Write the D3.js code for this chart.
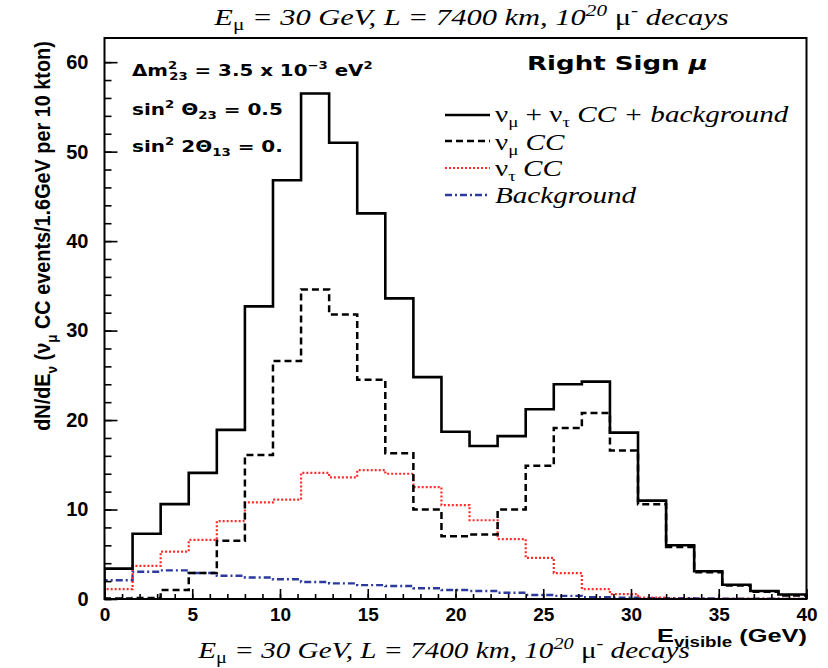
<!DOCTYPE html>
<html>
<head>
<meta charset="utf-8">
<script src="https://cdn.jsdelivr.net/npm/d3@7"></script>
<style>
  html, body { margin: 0; padding: 0; background: #fff; }
  svg { display: block; }
</style>
</head>
<body>
<svg id="chart" width="828" height="668"></svg>
<script>
// Visible-energy histograms, 1.6 GeV bins from 0 to 40 GeV
const binWidth = 1.6;
const xDomain = [0, 40];
const yDomain = [0, 62.7];

const totalEvents = [3.4, 7.3, 10.6, 14.1, 18.9, 32.7, 46.8, 56.5, 51.0, 43.1, 33.6, 24.8, 18.7,
                     17.1, 18.2, 21.2, 24.0, 24.3, 18.6, 11.0, 6.0, 3.1, 1.6, 0.9, 0.5];
const numuCC = [0.05, 0.1, 1.0, 2.9, 6.5, 16.1, 26.6, 34.6, 31.8, 24.5, 16.3, 10.0, 7.0,
                7.2, 10.0, 14.9, 19.1, 20.8, 16.6, 10.6, 5.8, 3.0, 1.5, 0.8, 0.4];
const nutauCC = [1.1, 3.7, 5.3, 6.6, 8.7, 10.8, 11.1, 14.1, 13.6, 14.4, 14.0, 12.5, 10.5,
                 8.8, 6.7, 4.6, 2.9, 1.1, 0.55, 0.15, 0.05, 0.03, 0.02, 0.01, 0.01];
const background = [2.1, 3.05, 3.2, 2.9, 2.6, 2.4, 2.2, 1.9, 1.75, 1.55, 1.45, 1.2, 1.0,
                    0.9, 0.7, 0.45, 0.35, 0.2, 0.15, 0.1, 0.08, 0.05, 0.03, 0.02, 0.01];

const xMajorTicks = [0, 5, 10, 15, 20, 25, 30, 35, 40];
const yMajorTicks = [0, 10, 20, 30, 40, 50, 60];

const seriesStyles = [
  { values: background, color: "#2b3a9c", width: 2.4, dash: "7,3,2,3" },
  { values: nutauCC,    color: "#ff2a2a", width: 2.2, dash: "2,2" },
  { values: numuCC,     color: "#000",    width: 2.5, dash: "7,4" },
  { values: totalEvents, color: "#000",   width: 2.6, dash: null }
];

const svg = d3.select("#chart");
const m = { left: 104.5, right: 806.5, top: 38, bottom: 599 };

const x = d3.scaleLinear().domain(xDomain).range([m.left, m.right]);
const y = d3.scaleLinear().domain(yDomain).range([m.bottom, m.top]);

const serif = "'Liberation Serif', 'Times New Roman', serif";
const sans = "'Liberation Sans', Arial, sans-serif";
const roundSans = "'DejaVu Sans', Verdana, sans-serif";

svg.append("defs").append("clipPath").attr("id", "plotClip")
  .append("rect")
  .attr("x", m.left).attr("y", m.top)
  .attr("width", m.right - m.left).attr("height", m.bottom - m.top);

// Step outline of a histogram, closed down to zero at both ends
function stepPoints(values) {
  const pts = [[xDomain[0], 0]];
  values.forEach((v, i) => {
    const lo = xDomain[0] + i * binWidth;
    pts.push([lo, v], [lo + binWidth, v]);
  });
  pts.push([xDomain[0] + values.length * binWidth, 0]);
  return pts;
}
const line = d3.line().x(d => x(d[0])).y(d => y(d[1]));

const hist = svg.append("g").attr("clip-path", "url(#plotClip)");
seriesStyles.forEach(s => {
  hist.append("path")
    .attr("d", line(stepPoints(s.values)))
    .attr("fill", "none")
    .attr("stroke", s.color)
    .attr("stroke-width", s.width)
    .attr("stroke-dasharray", s.dash)
    .attr("stroke-linejoin", "miter");
});

// Axes: ticks point into the frame
const xMinor = d3.range(xDomain[0], xDomain[1] + 0.001, 1);
const yMinor = d3.range(0, 62, 2);

svg.append("g").attr("transform", `translate(0,${m.bottom})`)
  .call(d3.axisBottom(x).tickValues(xMinor).tickSize(-5).tickFormat(""))
  .call(g => g.select(".domain").remove())
  .call(g => g.selectAll("line").attr("stroke-width", 1.6));
svg.append("g").attr("transform", `translate(0,${m.bottom})`)
  .call(d3.axisBottom(x).tickValues(xMajorTicks).tickSize(-10).tickPadding(18).tickFormat(d3.format("d")))
  .call(g => g.select(".domain").remove())
  .call(g => g.selectAll("line").attr("stroke-width", 1.6))
  .call(g => g.selectAll("text")
    .attr("font-family", sans)
    .attr("font-weight", "bold").attr("font-size", 19).attr("fill", "#000")
    .attr("dy", "0.2em"));

svg.append("g").attr("transform", `translate(${m.left},0)`)
  .call(d3.axisLeft(y).tickValues(yMinor).tickSize(-7).tickFormat(""))
  .call(g => g.select(".domain").remove())
  .call(g => g.selectAll("line").attr("stroke-width", 1.6));
svg.append("g").attr("transform", `translate(${m.left},0)`)
  .call(d3.axisLeft(y).tickValues(yMajorTicks).tickSize(-13).tickPadding(16).tickFormat(d3.format("d")))
  .call(g => g.select(".domain").remove())
  .call(g => g.selectAll("line").attr("stroke-width", 1.6))
  .call(g => g.selectAll("text")
    .attr("font-family", sans)
    .attr("font-weight", "bold").attr("font-size", 20).attr("fill", "#000"));

// Frame
svg.append("rect")
  .attr("x", m.left).attr("y", m.top)
  .attr("width", m.right - m.left).attr("height", m.bottom - m.top)
  .attr("fill", "none").attr("stroke", "#000").attr("stroke-width", 2);

// Text helper: a text in its own group, stretched horizontally to span [x0, x1]
function wideText(x0, x1, yPos, attrs) {
  const g = svg.append("g");
  const t = g.append("text").attr("x", 0).attr("y", yPos).attr("fill", "#000");
  Object.entries(attrs).forEach(([k, v]) => t.attr(k, v));
  return { g, t, fit() {
    const b = t.node().getBBox();
    const s = (x1 - x0) / b.width;
    g.attr("transform", `translate(${x0 - b.x * s},0) scale(${s},1)`);
  } };
}

// Run description above and below the frame
function runTitle(x0, x1, yPos) {
  const w = wideText(x0, x1, yPos, { "font-family": serif, "font-size": 23 });
  const t = w.t;
  t.append("tspan").attr("font-style", "italic").text("E");
  t.append("tspan").attr("font-size", 16).attr("dy", 5).text("μ");
  t.append("tspan").attr("font-style", "italic").attr("dy", -5).text(" = 30 GeV, L = 7400 km, 10");
  t.append("tspan").attr("font-style", "italic").attr("font-size", 16).attr("dy", -9).text("20");
  t.append("tspan").attr("dy", 9).text(" μ");
  t.append("tspan").attr("font-size", 16).attr("dy", -9).text("-");
  t.append("tspan").attr("font-style", "italic").attr("dy", 9).text(" decays");
  w.fit();
}
runTitle(213, 729, 25);
runTitle(197, 690, 658);

// Y axis title
const ytG = svg.append("g");
const yt = ytG.append("text")
  .attr("x", 0).attr("y", 0)
  .attr("text-anchor", "middle")
  .attr("font-family", sans)
  .attr("font-weight", "bold").attr("font-size", 19).attr("fill", "#000");
yt.append("tspan").text("dN/dE");
yt.append("tspan").attr("font-size", 13).attr("dy", 6).text("ν");
yt.append("tspan").attr("dy", -6).text(" (ν");
yt.append("tspan").attr("font-size", 13).attr("dy", 6).text("μ");
yt.append("tspan").attr("dy", -6).text(" CC events/1.6GeV per 10 kton)");
{
  const b = yt.node().getBBox();
  const s = 390 / b.width;
  ytG.attr("transform", `translate(50,236) rotate(-90) scale(${s},1.15)`);
}

// X axis title
{
  const w = wideText(657, 807, 642, { "font-family": sans, "font-weight": "bold", "font-size": 19 });
  w.t.append("tspan").text("E");
  w.t.append("tspan").attr("font-size", 14).attr("dy", 5).text("visible");
  w.t.append("tspan").attr("dy", -5).text(" (GeV)");
  w.fit();
}

// Oscillation parameters
function param(x1, yPos) {
  return wideText(132, x1, yPos, { "font-family": roundSans, "font-weight": "bold", "font-size": 15 });
}
const p1 = param(373, 76);
p1.t.append("tspan").text("Δm");
p1.t.append("tspan").attr("font-size", 10).attr("dy", -7).text("2");
p1.t.append("tspan").attr("font-size", 10).attr("dx", -6).attr("dy", 11).text("23");
p1.t.append("tspan").attr("dy", -4).text(" = 3.5 x 10");
p1.t.append("tspan").attr("font-size", 10).attr("dy", -7).text("−3");
p1.t.append("tspan").attr("dy", 7).text(" eV");
p1.t.append("tspan").attr("font-size", 10).attr("dy", -7).text("2");
p1.fit();

const p2 = param(283, 115);
p2.t.append("tspan").text("sin");
p2.t.append("tspan").attr("font-size", 10).attr("dy", -7).text("2");
p2.t.append("tspan").attr("dy", 7).text(" Θ");
p2.t.append("tspan").attr("font-size", 10).attr("dy", 4).text("23");
p2.t.append("tspan").attr("dy", -4).text(" = 0.5");
p2.fit();

const p3 = param(283, 152);
p3.t.append("tspan").text("sin");
p3.t.append("tspan").attr("font-size", 10).attr("dy", -7).text("2");
p3.t.append("tspan").attr("dy", 7).text(" 2Θ");
p3.t.append("tspan").attr("font-size", 10).attr("dy", 4).text("13");
p3.t.append("tspan").attr("dy", -4).text(" = 0.");
p3.fit();

// Panel label
{
  const w = wideText(527, 708, 70, { "font-family": roundSans, "font-weight": "bold", "font-size": 20 });
  w.t.append("tspan").text("Right Sign ");
  w.t.append("tspan").attr("font-style", "italic").text("μ");
  w.fit();
}

// Legend
const legendItems = [
  { style: seriesStyles[3], y: 115, ty: 122, parts: [["ν", 0], ["μ", 1], [" + ν", 0], ["τ", 1], [" CC + background", 2]] },
  { style: seriesStyles[2], y: 141, ty: 150, parts: [["ν", 0], ["μ", 1], [" CC", 2]] },
  { style: seriesStyles[1], y: 168, ty: 176, parts: [["ν", 0], ["τ", 1], [" CC", 2]] },
  { style: seriesStyles[0], y: 195, ty: 203, parts: [["Background", 2]] }
];
let legendScale = null;
legendItems.forEach(item => {
  svg.append("line")
    .attr("x1", 445).attr("x2", 490).attr("y1", item.y).attr("y2", item.y)
    .attr("stroke", item.style.color).attr("stroke-width", item.style.width)
    .attr("stroke-dasharray", item.style.dash);
  const g = svg.append("g");
  const t = g.append("text").attr("x", 0).attr("y", item.ty)
    .attr("font-family", serif).attr("font-size", 23).attr("fill", "#000");
  let shifted = false;
  item.parts.forEach(([s, kind]) => {
    const sp = t.append("tspan").text(s);
    if (kind === 1) {
      sp.attr("font-size", 15).attr("dy", 5);
      shifted = true;
    } else {
      if (shifted) { sp.attr("dy", -5); shifted = false; }
      if (kind === 2) sp.attr("font-style", "italic");
    }
  });
  const b = t.node().getBBox();
  if (legendScale === null) legendScale = (787 - 493) / b.width;
  g.attr("transform", `translate(${495 - b.x * legendScale},0) scale(${legendScale},1)`);
});
</script>
</body>
</html>
